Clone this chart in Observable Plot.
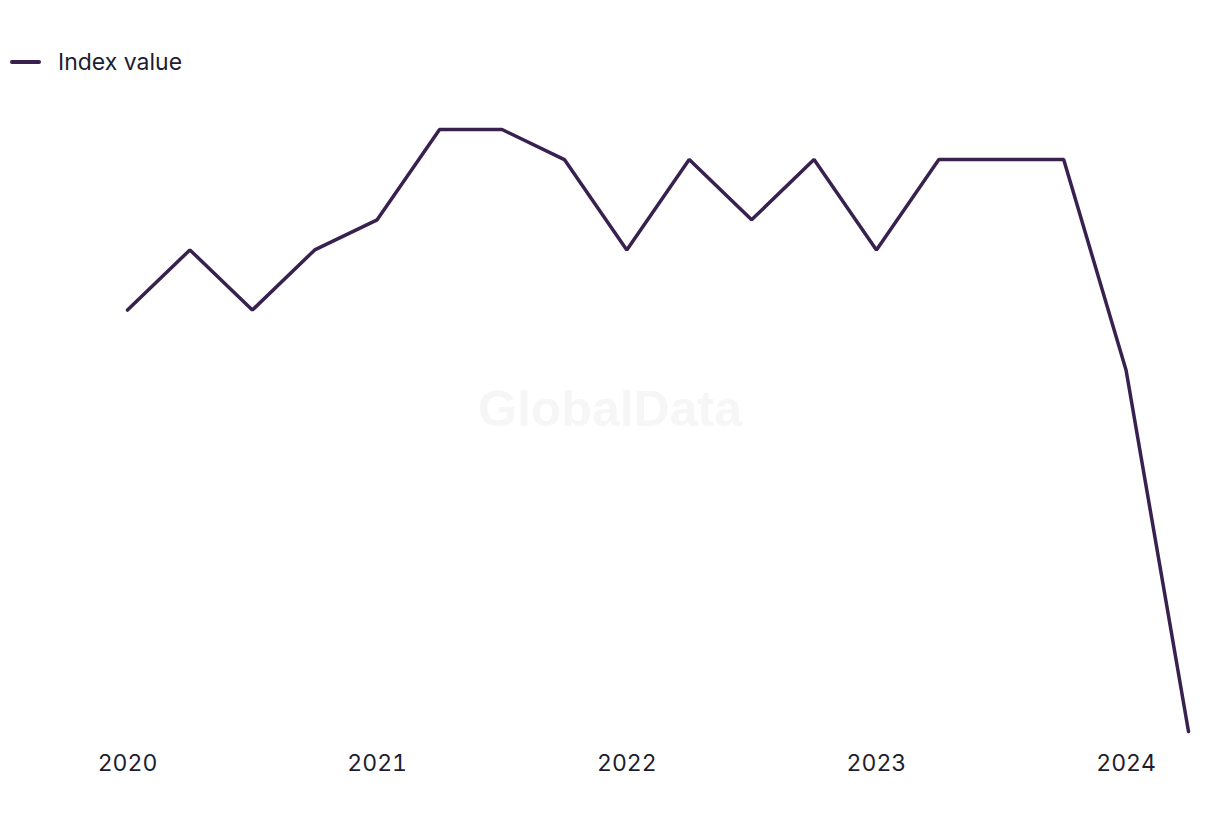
<!DOCTYPE html>
<html>
<head>
<meta charset="utf-8">
<script src="https://cdn.jsdelivr.net/npm/d3@7"></script>
<script src="https://cdn.jsdelivr.net/npm/@observablehq/plot@0.6"></script>
<style>
  html, body { margin: 0; padding: 0; background: #fff; }
  body { width: 1220px; height: 820px; position: relative; overflow: hidden; font-family: Inter, "Noto Sans", sans-serif; color: #1e1c30; }
  #legend { position: absolute; left: 10px; top: 44px; height: 36px; display: flex; align-items: center; font-size: 23px; }
  #legend .sw { width: 31px; height: 4px; background: #38214f; border-radius: 2px; margin-right: 17px; }
  #chart { position: absolute; left: 0; top: 100px; }
  #wm { position: absolute; left: 0; width: 1220px; top: 379px; text-align: center; font-family: "Liberation Sans", Arial, sans-serif; font-weight: bold; font-size: 50px; line-height: 60px; color: #f6f6f6; pointer-events: none; }
</style>
</head>
<body>
<div id="legend"><div class="sw"></div><span>Index value</span></div>
<div id="wm">GlobalData</div>
<div id="chart"></div>
<script>
const periods = [2020, 2020.25, 2020.5, 2020.75, 2021, 2021.25, 2021.5, 2021.75, 2022, 2022.25, 2022.5, 2022.75, 2023, 2023.25, 2023.5, 2023.75, 2024, 2024.25];
const indexValues = [4, 6, 4, 6, 7, 10, 10, 9, 6, 9, 7, 9, 6, 9, 9, 9, 2, -10];
const yearTicks = [2020, 2021, 2022, 2023, 2024];
const seriesName = "Index value";

const data = periods.map((p, i) => ({period: p, value: indexValues[i], series: seriesName}));

const chart = Plot.plot({
  width: 1220,
  height: 720,
  marginLeft: 127,
  marginRight: 32,
  marginTop: 29,
  marginBottom: 89,
  style: {fontFamily: "Inter, 'Noto Sans', sans-serif", fontSize: "23px", color: "#1e1c30", background: "transparent"},
  x: {domain: [2020, 2024.25], ticks: yearTicks, tickFormat: d => String(d), label: null, tickSize: 0, tickPadding: 23},
  y: {domain: [d3.min(indexValues), d3.max(indexValues)], axis: null},
  marks: [
    Plot.line(data, {x: "period", y: "value", stroke: "#38214f", strokeWidth: 3.5, strokeLinejoin: "miter", strokeLinecap: "round"})
  ]
});
document.getElementById("chart").appendChild(chart);
</script>
</body>
</html>
